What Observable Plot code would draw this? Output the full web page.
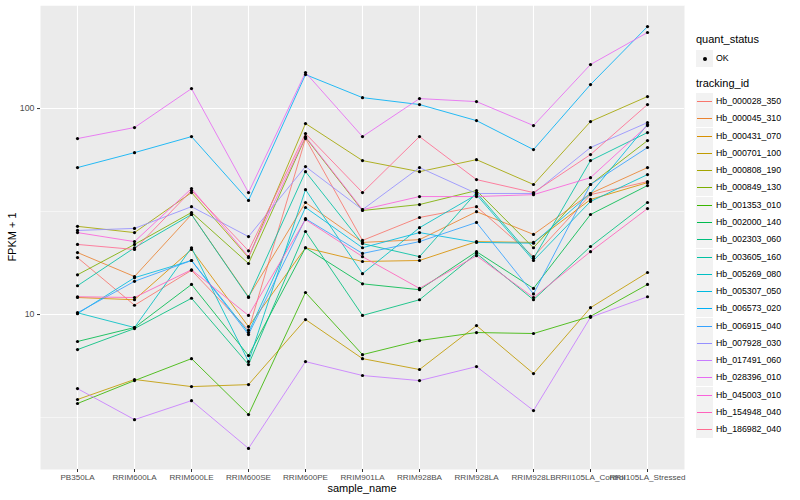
<!DOCTYPE html>
<html>
<head>
<meta charset="utf-8">
<script src="https://cdn.jsdelivr.net/npm/d3@7"></script>
<script src="https://cdn.jsdelivr.net/npm/@observablehq/plot@0.6"></script>
<style>
  body { margin: 0; background: white; font-family: "Liberation Sans", Arial, Helvetica, sans-serif; }
  #wrap { position: relative; width: 800px; height: 500px; overflow: hidden; }
  #wrap svg { position: absolute; left: 0; top: 0; }
  .ttl { position: absolute; font-size: 11px; line-height: 11px; color: #000; white-space: nowrap; }
  .lg-title { position: absolute; font-size: 11px; color: #000; white-space: nowrap; }
  .lg-key { position: absolute; width: 17px; height: 17px; background: #F2F2F2; }
  .lg-line { position: absolute; left: 1px; right: 1px; top: 8px; height: 1px; }
  .lg-dot { position: absolute; left: 6.5px; top: 6.5px; width: 4px; height: 4px; border-radius: 50%; background: #000; }
  .lg-text { position: absolute; font-size: 8.8px; color: #000; white-space: nowrap; line-height: 17px; }
</style>
</head>
<body>
<div id="wrap"></div>
<script>
// ---- data ----
const samples = ["PB350LA","RRIM600LA","RRIM600LE","RRIM600SE","RRIM600PE","RRIM901LA","RRIM928BA","RRIM928LA","RRIM928LB","RRII105LA_Control","RRII105LA_Stressed"];
const trackingIds = ["Hb_000028_350","Hb_000045_310","Hb_000431_070","Hb_000701_100","Hb_000808_190","Hb_000849_130","Hb_001353_010","Hb_002000_140","Hb_002303_060","Hb_003605_160","Hb_005269_080","Hb_005307_050","Hb_006573_020","Hb_006915_040","Hb_007928_030","Hb_017491_060","Hb_028396_010","Hb_045003_010","Hb_154948_040","Hb_186982_040"];
const idColors = ["#F8766D","#EA8331","#D89000","#C09B00","#A3A500","#7CAE00","#39B600","#00BB4E","#00BF7D","#00C1A3","#00BFC4","#00BAE0","#00B0F6","#35A2FF","#9590FF","#C77CFF","#E76BF3","#FA62DB","#FF62BC","#FF6C91"];
const yTicks = [10, 100];

// FPKM + 1 per sample (order of `samples`)
const Hb_000028_350 = [18.9, 11.1, 16.4, 8.4, 71.5, 22.9, 29.6, 33.4, 19.1, 38.2, 44.2];
const Hb_000045_310 = [20.0, 15.3, 30.6, 12.2, 35.0, 22.4, 23.1, 31.6, 24.5, 38.7, 51.7];
const Hb_000431_070 = [12.1, 11.8, 20.7, 8.74, 21.1, 18.1, 18.3, 22.6, 22.4, 36.2, 43.7];
const Hb_000701_100 = [3.87, 4.84, 4.47, 4.57, 9.46, 6.11, 5.41, 8.84, 5.17, 10.8, 16.0];
const Hb_000808_190 = [26.8, 25.0, 39.1, 18.9, 84.6, 55.9, 49.4, 56.5, 42.8, 86.5, 114.4];
const Hb_000849_130 = [15.6, 21.9, 31.3, 17.7, 72.5, 32.0, 34.2, 40.0, 21.1, 42.8, 69.9];
const Hb_001353_010 = [3.70, 4.78, 6.11, 3.27, 12.8, 6.39, 7.48, 8.18, 8.09, 9.8, 14.0];
const Hb_002000_140 = [7.40, 8.65, 14.0, 6.32, 21.1, 14.1, 13.2, 20.2, 13.4, 30.6, 42.3];
const Hb_002303_060 = [6.76, 8.55, 12.0, 5.72, 25.3, 9.9, 11.8, 19.8, 11.8, 21.4, 35.0];
const Hb_003605_160 = [13.8, 21.1, 30.6, 12.1, 49.4, 22.1, 19.1, 39.1, 18.7, 55.9, 76.5];
const Hb_005269_080 = [10.2, 8.65, 21.1, 5.91, 40.4, 15.8, 26.4, 38.2, 18.3, 35.4, 47.8];
const Hb_005307_050 = [10.1, 15.1, 18.3, 8.18, 33.1, 21.1, 25.0, 22.4, 22.2, 38.7, 83.6];
const Hb_006573_020 = [51.7, 61.1, 73.1, 35.8, 146.2, 113.0, 104.6, 87.4, 63.2, 130.8, 250.0];
const Hb_006915_040 = [10.2, 14.5, 18.3, 8.0, 29.2, 19.8, 22.6, 28.0, 12.6, 42.8, 64.7];
const Hb_007928_030 = [25.6, 26.2, 33.4, 23.9, 52.3, 32.3, 51.7, 38.7, 38.7, 64.7, 85.5];
const Hb_017491_060 = [4.37, 3.09, 3.82, 2.24, 5.91, 5.06, 4.78, 5.59, 3.42, 9.7, 12.2];
const Hb_028396_010 = [71.5, 80.9, 125.0, 39.1, 149.6, 73.1, 111.8, 108.1, 82.7, 163.6, 234.0];
const Hb_045003_010 = [25.0, 22.6, 40.9, 19.1, 73.1, 32.3, 37.4, 37.4, 38.2, 46.2, 82.7];
const Hb_154948_040 = [12.2, 12.1, 16.5, 9.9, 28.9, 19.1, 13.4, 19.3, 12.1, 20.2, 32.7];
const Hb_186982_040 = [21.9, 20.7, 40.0, 20.4, 75.6, 39.1, 73.1, 45.2, 39.1, 59.8, 104.6];

const seriesValues = [Hb_000028_350, Hb_000045_310, Hb_000431_070, Hb_000701_100, Hb_000808_190,
  Hb_000849_130, Hb_001353_010, Hb_002000_140, Hb_002303_060, Hb_003605_160, Hb_005269_080,
  Hb_005307_050, Hb_006573_020, Hb_006915_040, Hb_007928_030, Hb_017491_060, Hb_028396_010,
  Hb_045003_010, Hb_154948_040, Hb_186982_040];

// tidy table
const data = [];
trackingIds.forEach((id, i) => {
  seriesValues[i].forEach((v, j) => data.push({tracking_id: id, sample_name: samples[j], value: v, quant_status: "OK"}));
});

// log scale domain with 5% expansion (like ggplot)
const [lo, hi] = d3.extent(data, d => d.value);
const l0 = Math.log10(lo), l1 = Math.log10(hi), pad = (l1 - l0) * 0.05;
const yDomain = [10 ** (l0 - pad), 10 ** (l1 + pad)];
const minorTicks = [10 ** 0.5, 10 ** 1.5, 10 ** 2.5].filter(t => t >= yDomain[0] && t <= yDomain[1]);

const chart = Plot.plot({
  width: 800,
  height: 500,
  marginLeft: 40,
  marginRight: 116,
  marginTop: 5,
  marginBottom: 31,
  style: {fontFamily: "'Liberation Sans', Arial, Helvetica, sans-serif", fontSize: "8.8px", color: "#4D4D4D", background: "transparent", overflow: "visible"},
  x: {type: "point", domain: samples, padding: 0.6},
  y: {type: "log", domain: yDomain},
  color: {domain: trackingIds, range: idColors},
  marks: [
    Plot.frame({fill: "#EBEBEB", stroke: null}),
    Plot.ruleY(minorTicks, {stroke: "white", strokeWidth: 0.55}),
    Plot.ruleY(yTicks, {stroke: "white", strokeWidth: 1.1}),
    Plot.ruleX(samples, {stroke: "white", strokeWidth: 1.1}),
    Plot.line(data, {x: "sample_name", y: "value", z: "tracking_id", stroke: "tracking_id", strokeWidth: 0.85}),
    Plot.dot(data, {x: "sample_name", y: "value", fill: "black", r: 1.6, stroke: null}),
    Plot.axisX({tickSize: 3, tickPadding: 2, stroke: "#333333", fill: "#4D4D4D", fontSize: 8.1, label: null}),
    Plot.axisY(yTicks, {tickSize: 3, tickPadding: 3, stroke: "#333333", fill: "#4D4D4D", tickFormat: d => String(d), label: null})
  ]
});

const wrap = document.getElementById("wrap");
wrap.appendChild(chart);

// axis titles
const xt = document.createElement("div");
xt.className = "ttl";
xt.textContent = "sample_name";
xt.style.left = "362px"; xt.style.top = "483px"; xt.style.transform = "translateX(-50%)";
wrap.appendChild(xt);

const yt = document.createElement("div");
yt.className = "ttl";
yt.textContent = "FPKM + 1";
yt.style.left = "12px"; yt.style.top = "237px";
yt.style.transform = "translate(-50%, -50%) rotate(-90deg)";
wrap.appendChild(yt);

// legends
const LX = 696;
function addTitle(text, top) {
  const t = document.createElement("div");
  t.className = "lg-title"; t.textContent = text;
  t.style.left = LX + "px"; t.style.top = top + "px";
  wrap.appendChild(t);
}
addTitle("quant_status", 33);
const k0 = document.createElement("div");
k0.className = "lg-key"; k0.style.left = LX + "px"; k0.style.top = "50px";
const dot0 = document.createElement("div"); dot0.className = "lg-dot"; k0.appendChild(dot0);
wrap.appendChild(k0);
const t0 = document.createElement("div");
t0.className = "lg-text"; t0.textContent = "OK"; t0.style.left = (LX + 20) + "px"; t0.style.top = "50px";
wrap.appendChild(t0);

addTitle("tracking_id", 77);
trackingIds.forEach((id, i) => {
  const top = 93 + i * 17.28;
  const k = document.createElement("div");
  k.className = "lg-key"; k.style.left = LX + "px"; k.style.top = top + "px";
  const ln = document.createElement("div"); ln.className = "lg-line"; ln.style.background = idColors[i];
  k.appendChild(ln);
  wrap.appendChild(k);
  const t = document.createElement("div");
  t.className = "lg-text"; t.textContent = id; t.style.left = (LX + 20) + "px"; t.style.top = top + "px";
  wrap.appendChild(t);
});
</script>
</body>
</html>
